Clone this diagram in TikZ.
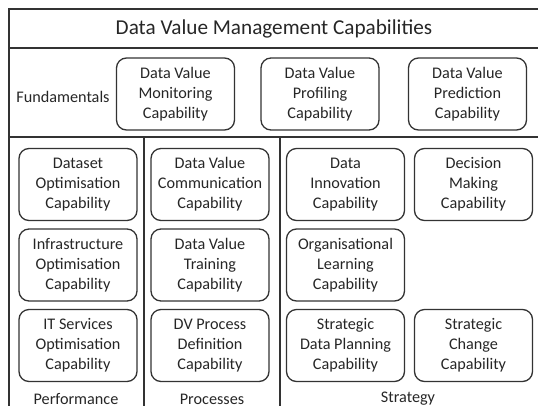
\documentclass[tikz,border=0pt]{standalone}
\usepackage{fontspec}
\setmainfont{Carlito}
\usepackage{tikz}

\begin{document}
\begin{tikzpicture}[x=1pt,y=-1pt,
  frame/.style={draw=black!80,line width=1.3pt},
  capbox/.style={draw=black!80,line width=1.3pt,rounded corners=10pt,
    minimum width=118pt,minimum height=72pt,inner sep=0pt,align=center,
    text=black!85,font=\fontsize{16.2}{20}\selectfont},
  lbl/.style={text=black!85,inner sep=0pt,font=\fontsize{16.2}{20}\selectfont}]
\useasboundingbox (0,0) rectangle (538,405);
\draw[frame] (560,9) -- (9,9) -- (9,420);
\draw[frame] (9,48) -- (560,48);
\draw[frame] (9,137) -- (560,137);
\draw[frame] (144,137) -- (144,420);
\draw[frame] (280,137) -- (280,420);
\node[lbl,font=\fontsize{21.2}{25}\selectfont] (title) at (274,29) {Data Value Management Capabilities};
\node[lbl] (fund) at (63,97) {Fundamentals};
\foreach \nm/\x/\y/\txt in {
    mon/175.5/94/{Data Value\\Monitoring\\Capability},
    prof/320/94/{Data Value\\Profiling\\Capability},
    pred/467.5/94/{Data Value\\Prediction\\Capability},
    dset/78/184.5/{Dataset\\Optimisation\\Capability},
    infra/78/265/{Infrastructure\\Optimisation\\Capability},
    itserv/78/345.5/{IT Services\\Optimisation\\Capability},
    comm/210/184.5/{Data Value\\Communication\\Capability},
    train/210/265/{Data Value\\Training\\Capability},
    procdef/210/345.5/{DV Process\\Definition\\Capability},
    innov/345.5/184.5/{Data\\Innovation\\Capability},
    decis/473.5/184.5/{Decision\\Making\\Capability},
    orglearn/345.5/265/{Organisational\\Learning\\Capability},
    stratdata/345.5/345.5/{Strategic\\Data Planning\\Capability},
    stratchange/473.5/345.5/{Strategic\\Change\\Capability}}
  \node[capbox] (\nm) at (\x,\y) {\txt};
\node[lbl] (perf) at (76,399) {Performance};
\node[lbl] (proc) at (212,399) {Processes};
\node[lbl] (strat) at (408,399) {Strategy};
\end{tikzpicture}
\end{document}
